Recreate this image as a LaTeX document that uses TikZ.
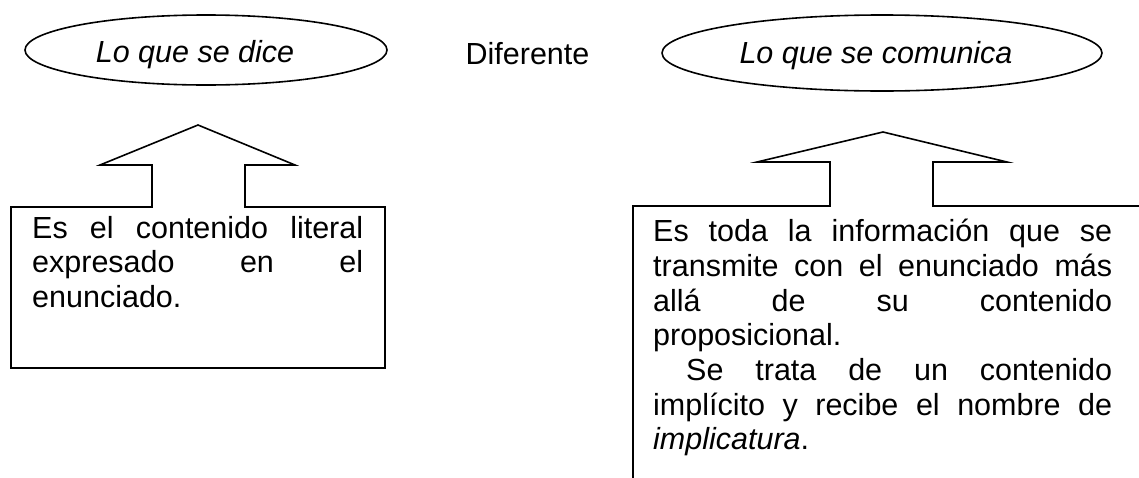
\documentclass[tikz,border=0pt]{standalone}
\usepackage{fontspec}
\setmainfont{Liberation Sans}
\usetikzlibrary{shapes.geometric}
\newcommand{\jline}[2]{\hbox{\makebox[#1][s]{#2}}}
\newcommand{\pline}[1]{\hbox{#1}}
\begin{document}
\begin{tikzpicture}[x=1pt,y=-1pt,
  outline/.style={draw=black,line width=1.6pt,line join=miter},
  oval/.style={ellipse,draw=black,line width=1.6pt,inner sep=0pt},
  txt/.style={font=\fontsize{30.5}{34.7}\selectfont,inner sep=0pt,anchor=base west}]
\useasboundingbox (0,0) rectangle (1139,477);
% ellipses
\node[oval,minimum width=362pt,minimum height=70pt] (dice) at (206,50) {};
\node[txt,anchor=base] (dicet) at (195,62) {\itshape Lo que se dice};
\node[oval,minimum width=440pt,minimum height=76pt] (comu) at (882,53) {};
\node[txt,anchor=base] (comut) at (876,63) {\itshape Lo que se comunica};
\node[txt,anchor=base] (dif) at (527.5,64) {Diferente};
% left arrow + box
\draw[outline] (152,207) -- (152,165) -- (100,165) -- (198,125) -- (295,165) -- (245,165) -- (245,207)
  -- (385,207) -- (385,368) -- (11,368) -- (11,207) -- cycle;
% right arrow + box
\draw[outline] (633,480) -- (633,206) -- (830,206) -- (830,162) -- (757,162) -- (883,132)
  -- (1007,162) -- (933,162) -- (933,206) -- (1145,206);
% texts
\node[txt] (lt) at (32,238) {\vtop{\jline{331pt}{Es el contenido literal}
  \jline{331pt}{expresado en el}
  \pline{enunciado.}}};
\node[txt] (rt) at (653,241.7) {\vtop{\jline{459pt}{Es toda la información que se}
  \jline{459pt}{transmite con el enunciado más}
  \jline{459pt}{allá de su contenido}
  \pline{proposicional.}
  \hbox{\hspace*{33pt}\makebox[426pt][s]{Se trata de un contenido}}
  \jline{459pt}{implícito y recibe el nombre de}
  \pline{\textit{implicatura}.}}};
\end{tikzpicture}
\end{document}
